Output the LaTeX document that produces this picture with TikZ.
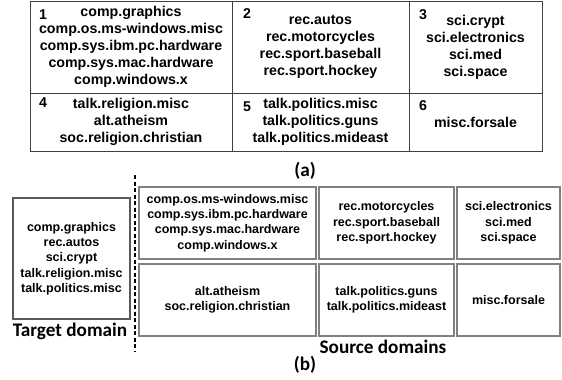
\documentclass[tikz,border=0pt]{standalone}
\usepackage{fontspec}
\setmainfont{Liberation Sans}
\newfontfamily\calibri{Carlito}
\usetikzlibrary{positioning}
\newcommand{\tablefont}{\bfseries\fontsize{14.2}{17}\selectfont}
\newcommand{\boxfont}{\bfseries\fontsize{12.5}{15.3}\selectfont}
\tikzset{
  cell/.style={draw=black!75, line width=0.8pt, inner sep=0pt,
    align=center, font=\tablefont},
  groupnum/.style={font=\tablefont, inner sep=0pt},
  domainbox/.style={draw=black!50, line width=1.2pt, inner sep=0pt,
    align=center, font=\boxfont},
  targetbox/.style={domainbox, draw=black!65},
  caption/.style={font=\calibri\bfseries\fontsize{19.2}{23}\selectfont,
    inner sep=0pt},
  separator/.style={line width=2pt, dash pattern=on 4pt off 2.5pt}
}

\begin{document}
\begin{tikzpicture}[x=1pt,y=-1pt]

  \path[use as bounding box] (0,0) rectangle (562,380);

  % (a) table of groups<<<
  \node[cell, minimum width=202pt, minimum height=92pt] (c1) at (131,47)
    {comp.graphics\\comp.os.ms-windows.misc\\comp.sys.ibm.pc.hardware\\
     comp.sys.mac.hardware\\comp.windows.x};
  \node[cell, minimum width=177pt, minimum height=92pt] (c2) at (320.5,47)
    {rec.autos\\rec.motorcycles\\rec.sport.baseball\\rec.sport.hockey};
  \node[cell, minimum width=133pt, minimum height=92pt] (c3) at (475.5,47)
    {sci.crypt\\sci.electronics\\sci.med\\sci.space};
  \node[cell, minimum width=202pt, minimum height=58pt] (c4) at (131,122)
    {talk.religion.misc\\alt.atheism\\soc.religion.christian};
  \node[cell, minimum width=177pt, minimum height=58pt] (c5) at (320.5,122)
    {talk.politics.misc\\talk.politics.guns\\talk.politics.mideast};
  \node[cell, minimum width=133pt, minimum height=58pt] (c6) at (475.5,122)
    {misc.forsale};

  \node[groupnum] (n1) at (43,15) {1};
  \node[groupnum] (n2) at (247,14) {2};
  \node[groupnum] (n3) at (423,15) {3};
  \node[groupnum] (n4) at (43,103) {4};
  \node[groupnum] (n5) at (247,107) {5};
  \node[groupnum] (n6) at (423,106) {6};

  \node[caption] (capa) at (305,171) {(a)};
  % >>>

  % (b) target and source domains<<<
  \node[targetbox, minimum width=117pt, minimum height=121pt] (target)
    at (71.5,258.5)
    {comp.graphics\\rec.autos\\sci.crypt\\talk.religion.misc\\talk.politics.misc};
  \node[caption] (targetlabel) at (70,331) {Target domain};

  \coordinate (septop) at (135,175);
  \coordinate (sepbot) at (135,352);
  \draw[separator] (septop) -- (sepbot);

  \node[domainbox, minimum width=177pt, minimum height=72pt] (s1) at (227.5,223)
    {comp.os.ms-windows.misc\\comp.sys.ibm.pc.hardware\\
     comp.sys.mac.hardware\\comp.windows.x};
  \node[domainbox, minimum width=135pt, minimum height=72pt] (s2) at (386.5,223)
    {rec.motorcycles\\rec.sport.baseball\\rec.sport.hockey};
  \node[domainbox, minimum width=103pt, minimum height=72pt] (s3) at (508.5,223)
    {sci.electronics\\sci.med\\sci.space};
  \node[domainbox, minimum width=177pt, minimum height=72pt] (s4) at (227.5,300)
    {alt.atheism\\soc.religion.christian};
  \node[domainbox, minimum width=135pt, minimum height=72pt] (s5) at (386.5,300)
    {talk.politics.guns\\talk.politics.mideast};
  \node[domainbox, minimum width=103pt, minimum height=72pt] (s6) at (508.5,300)
    {misc.forsale};
  \node[caption] (sourcelabel) at (383,347) {Source domains};

  \node[caption] (capb) at (305,365) {(b)};
  % >>>

\end{tikzpicture}
\end{document}
